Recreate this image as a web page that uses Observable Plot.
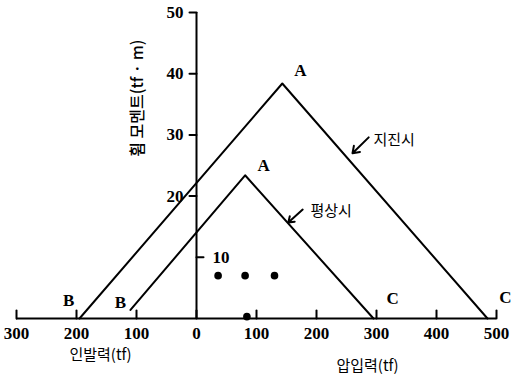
<!DOCTYPE html>
<html>
<head>
<meta charset="utf-8">
<script src="https://cdn.jsdelivr.net/npm/d3@7"></script>
<script src="https://cdn.jsdelivr.net/npm/@observablehq/plot@0.6"></script>
<style>
  html, body { margin: 0; padding: 0; background: #fff; }
  #chart svg { display: block; }
</style>
</head>
<body>
<div id="chart"></div>
<script>
// Data
const quakeX = [-195, 143, 485];      // 지진시: B, A, C
const quakeY = [0, 38.4, 0];
const normalX = [-110, 81, 295];      // 평상시: B, A, C
const normalY = [1.4, 23.4, 0];
const dotX = [36, 81, 130, 84];
const dotY = [7, 7, 7, 0.3];
const xTicks = [-300, -200, -100, 0, 100, 200, 300, 400, 500];
const yTicksLeft = [20, 30, 40, 50];
const yTicksRight = [10];
const pointLabels = ["A", "A", "B", "B", "C", "C"];
const pointLabelX = [173, 112, -213, -127, 327, 515];
const pointLabelY = [40.5, 25, 2.9, 2.6, 3.3, 3.4];
const seriesNames = ["지진시", "평상시"];
const seriesLabelX = [295, 190];
const seriesLabelY = [29.2, 17.6];
const arrowFromX = [287, 177];
const arrowFromY = [29.6, 17.8];
const arrowToX = [260, 153];
const arrowToY = [27, 15.7];
const xTitles = ["인발력(tf)", "압입력(tf)"];
const xTitleX = [-160, 285];
const xTitleY = [-6.0, -7.8];
const yTitle = "휨 모멘트(tf · m)";

const quake = quakeX.map((x, i) => ({x, y: quakeY[i]}));
const normal = normalX.map((x, i) => ({x, y: normalY[i]}));
const dots = dotX.map((x, i) => ({x, y: dotY[i]}));
const pLabels = pointLabels.map((t, i) => ({t, x: pointLabelX[i], y: pointLabelY[i]}));
const sLabels = seriesNames.map((t, i) => ({t, x: seriesLabelX[i], y: seriesLabelY[i]}));
const arrows = seriesNames.map((t, i) => ({x1: arrowFromX[i], y1: arrowFromY[i], x2: arrowToX[i], y2: arrowToY[i]}));
const xT = xTitles.map((t, i) => ({t, x: xTitleX[i], y: xTitleY[i]}));

const tickShape = { draw(context, l) { context.moveTo(0, 0); context.lineTo(0, -l); } };
const serif = "'Liberation Serif', 'DejaVu Serif', serif";
const kr = "'Noto Sans CJK KR', sans-serif";

const chart = Plot.plot({
  width: 524,
  height: 379,
  marginLeft: 16,
  marginRight: 28,
  marginTop: 12,
  marginBottom: 61,
  x: { domain: [-300, 500], axis: null },
  y: { domain: [0, 50], axis: null },
  style: { background: "#fff", overflow: "visible" },
  marks: [
    // axis lines
    Plot.ruleY([0], { x1: -300, x2: 500, stroke: "#000", strokeWidth: 2 }),
    Plot.ruleX([0], { y1: 0, y2: 50, stroke: "#000", strokeWidth: 2 }),
    // x ticks (upward)
    Plot.vector(xTicks, { x: d => d, y: 0, length: 8, rotate: 0, anchor: "start", shape: tickShape, stroke: "#000", strokeWidth: 2 }),
    Plot.text(xTicks, { x: d => d, y: 0, dy: 15, text: d => String(Math.abs(d)), fontFamily: serif, fontSize: 17, fontWeight: "bold", fill: "#000" }),
    // y ticks
    Plot.vector(yTicksLeft, { x: 0, y: d => d, length: 7, rotate: -90, anchor: "start", shape: tickShape, stroke: "#000", strokeWidth: 2 }),
    Plot.vector(yTicksRight, { x: 0, y: d => d, length: 7, rotate: 90, anchor: "start", shape: tickShape, stroke: "#000", strokeWidth: 2 }),
    Plot.text(yTicksLeft, { x: 0, y: d => d, dx: -13, textAnchor: "end", text: d => String(d), fontFamily: serif, fontSize: 17, fontWeight: "bold", fill: "#000" }),
    Plot.text(yTicksRight, { x: 0, y: d => d, dx: 16, textAnchor: "start", text: d => String(d), fontFamily: serif, fontSize: 17, fontWeight: "bold", fill: "#000" }),
    // triangles
    Plot.line(quake, { x: "x", y: "y", stroke: "#000", strokeWidth: 2 }),
    Plot.line(normal, { x: "x", y: "y", stroke: "#000", strokeWidth: 2 }),
    // dots
    Plot.dot(dots, { x: "x", y: "y", r: 3.8, fill: "#000" }),
    // point labels
    Plot.text(pLabels, { x: "x", y: "y", text: "t", fontFamily: serif, fontSize: 17, fontWeight: "bold", fill: "#000" }),
    // series labels & arrows
    Plot.arrow(arrows, { x1: "x1", y1: "y1", x2: "x2", y2: "y2", stroke: "#000", strokeWidth: 2, headLength: 9, headAngle: 70 }),
    Plot.text(sLabels, { x: "x", y: "y", text: "t", textAnchor: "start", fontFamily: kr, fontSize: 15, fontWeight: 400, fill: "#000" }),
    // axis titles
    Plot.text(xT, { x: "x", y: "y", text: "t", fontFamily: kr, fontSize: 15, fontWeight: 400, fill: "#000" }),
    Plot.text([yTitle], { x: -98, y: 36, text: d => d, rotate: -90, fontFamily: kr, fontSize: 16, fontWeight: 500, fill: "#000", style: "letter-spacing:5px" })
  ]
});
document.getElementById("chart").appendChild(chart);
</script>
</body>
</html>
